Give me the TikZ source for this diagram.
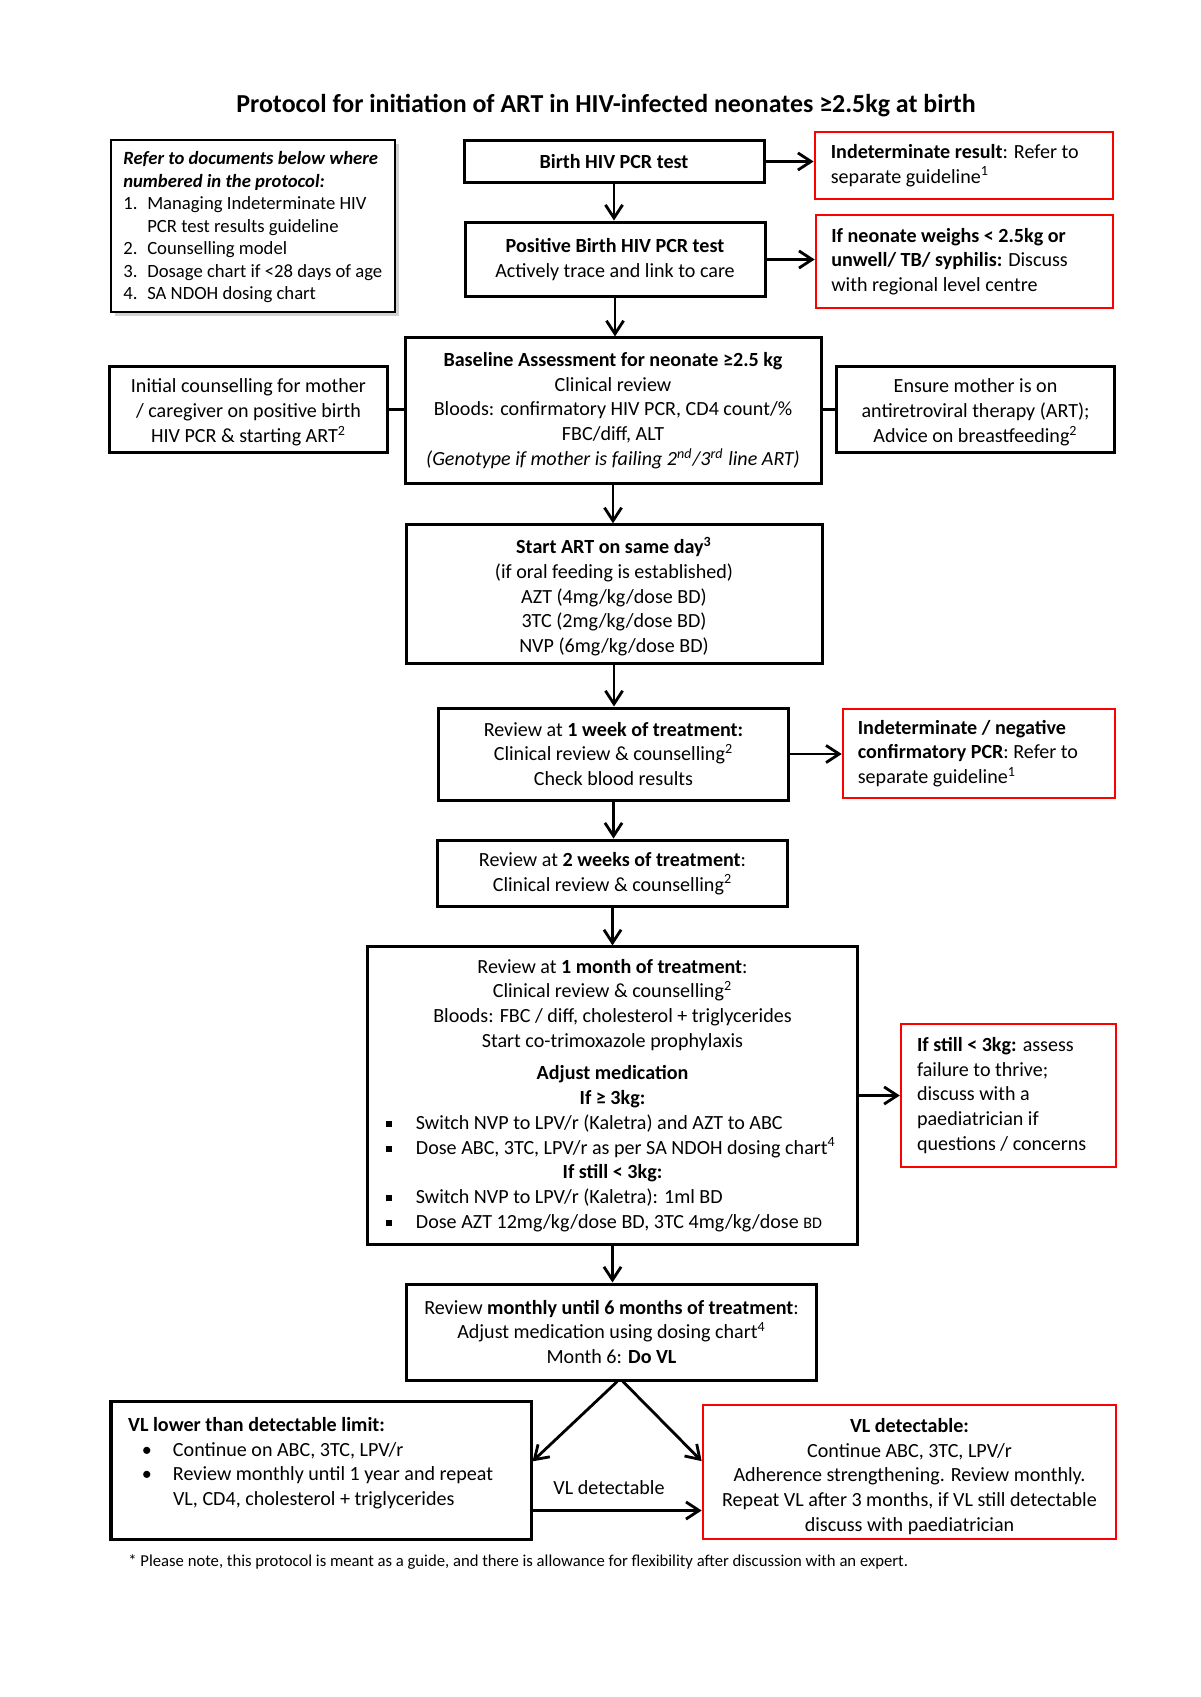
\documentclass[tikz,border=0pt]{standalone}
\usepackage{fontspec}
\setmainfont{Carlito}
\usetikzlibrary{arrows.meta,shadows}
\newcommand{\sqbul}{\raisebox{0.25ex}{\rule{0.3em}{0.3em}}}
\newcommand{\sqitem}[1]{\makebox[80mm][l]{\hspace*{0.35mm}\makebox[5.25mm][l]{\sqbul}#1}}
\newcommand{\rdot}{\makebox[5.45mm][l]{\textbullet}}
\newcommand{\refno}[1]{\makebox[4.2mm][l]{#1}}
\begin{document}
\begin{tikzpicture}[x=0.175mm, y=-0.175mm,
    box/.style={rectangle, draw, line width=1.5pt, align=center, inner sep=0pt, font=\fontsize{10}{12.35}\selectfont},
    redbox/.style={box, draw=red, line width=1.25pt, align=flush left},
    arrow/.style={->, >={Straight Barb[length=2.3mm,width=3mm]}, line width=1.4pt},
    link/.style={line width=1.4pt}
]
    \useasboundingbox (0,0) rectangle (1200,1697);

    % Title
    \node[font=\bfseries\fontsize{12.9}{15}\selectfont] (title) at (606,106) {Protocol for initiation of ART in HIV-infected neonates ≥2.5kg at birth};

    % Reference list
    \node[box, line width=0.6pt, align=flush left, fill=white, drop shadow={shadow xshift=0.7mm, shadow yshift=-0.7mm, fill=black!35},
          font=\fontsize{9.3}{11.2}\selectfont, text width=45.4mm, minimum width=49.7mm, minimum height=30.1mm] (refs) at (253,226)
        {\rule{0pt}{2.8mm}\textbf{\textit{Refer to documents below where}}\\
         \textbf{\textit{numbered in the protocol:}}\\
         \refno{1.}Managing Indeterminate HIV\\
         \hspace*{4.2mm}PCR test results guideline\\
         \refno{2.}Counselling model\\
         \refno{3.}Dosage chart if <28 days of age\\
         \refno{4.}SA NDOH dosing chart};

    % Top of the main column
    \node[box, minimum width=52.5mm, minimum height=7.2mm] (birth) at (614,161.5) {\textbf{Birth HIV PCR test}};
    \node[redbox, text width=46.6mm, minimum width=52.2mm, minimum height=11.7mm] (indet) at (964,165.5)
        {\textbf{Indeterminate result}: Refer to\\separate guideline\textsuperscript{1}};
    \node[box, minimum width=52.5mm, minimum height=13.1mm] (positive) at (615,259.5)
        {\textbf{Positive Birth HIV PCR test}\\Actively trace and link to care};
    \node[redbox, text width=46.6mm, minimum width=52mm, minimum height=16.3mm] (weighs) at (964.5,261.5)
        {\textbf{If neonate weighs < 2.5kg or}\\\textbf{unwell/ TB/ syphilis:} Discuss\\with regional level centre};

    % Baseline row
    \node[box, minimum width=72.8mm, minimum height=25.4mm] (baseline) at (613,410.5)
        {\textbf{Baseline Assessment for neonate ≥2.5 kg}\\Clinical review\\Bloods: confirmatory HIV PCR, CD4 count/\%\\FBC/diff, ALT\\
         \textit{(Genotype if mother is failing 2\textsuperscript{nd}/3\textsuperscript{rd} line ART)}};
    \node[box, minimum width=48.5mm, minimum height=15.2mm] (counsel) at (248.5,409.5)
        {\rule{0pt}{3.4mm}Initial counselling for mother\\/ caregiver on positive birth\\HIV PCR \& starting ART\textsuperscript{2}};
    \node[box, minimum width=48.8mm, minimum height=15.2mm] (mother) at (975.5,409.5)
        {\rule{0pt}{3.4mm}Ensure mother is on\\antiretroviral therapy (ART);\\Advice on breastfeeding\textsuperscript{2}};

    % Treatment steps
    \node[box, minimum width=72.8mm, minimum height=24.2mm] (startart) at (614,594)
        {\rule{0pt}{3.8mm}\textbf{Start ART on same day\textsuperscript{3}}\\(if oral feeding is established)\\AZT (4mg/kg/dose BD)\\3TC (2mg/kg/dose BD)\\NVP (6mg/kg/dose BD)};
    \node[box, minimum width=61.1mm, minimum height=16.1mm] (week1) at (613.5,754)
        {Review at \textbf{1 week of treatment:}\\Clinical review \& counselling\textsuperscript{2}\\Check blood results};
    \node[redbox, text width=42.4mm, minimum width=47.6mm, minimum height=15.6mm] (negpcr) at (979,753.5)
        {\textbf{Indeterminate / negative}\\\textbf{confirmatory PCR}: Refer to\\separate guideline\textsuperscript{1}};
    \node[box, minimum width=61.1mm, minimum height=11.7mm] (week2) at (612.5,873.5)
        {Review at \textbf{2 weeks of treatment}:\\Clinical review \& counselling\textsuperscript{2}};
    \node[box, align=flush center, text width=80mm, minimum width=85.6mm, minimum height=52mm] (month1) at (612.5,1095.5)
        {Review at \textbf{1 month of treatment}:\\Clinical review \& counselling\textsuperscript{2}\\
         Bloods: FBC / diff, cholesterol + triglycerides\\Start co-trimoxazole prophylaxis\\[1.3mm]
         \textbf{Adjust medication}\\\textbf{If ≥ 3kg:}\\
         \sqitem{Switch NVP to LPV/r (Kaletra) and AZT to ABC}\\
         \sqitem{Dose ABC, 3TC, LPV/r as per SA NDOH dosing chart\textsuperscript{4}}\\
         \textbf{If still < 3kg:}\\
         \sqitem{Switch NVP to LPV/r (Kaletra): 1ml BD}\\
         \sqitem{Dose AZT 12mg/kg/dose BD, 3TC 4mg/kg/dose {\footnotesize BD}}};
    \node[redbox, text width=32mm, minimum width=37.6mm, minimum height=25mm] (still3) at (1008.5,1095.5)
        {\textbf{If still < 3kg:} assess\\failure to thrive;\\discuss with a\\paediatrician if\\questions / concerns};
    \node[box, minimum width=71.9mm, minimum height=16.8mm] (monthly) at (611.5,1332)
        {Review \textbf{monthly until 6 months of treatment}:\\Adjust medication using dosing chart\textsuperscript{4}\\Month 6: \textbf{Do VL}};

    % Viral load outcome
    \node[box, align=flush left, text width=67.5mm, minimum width=73.5mm, minimum height=24mm] (vllow) at (321,1470.5)
        {\textbf{VL lower than detectable limit:}\\
         \hspace*{2.4mm}\rdot Continue on ABC, 3TC, LPV/r\\
         \hspace*{2.4mm}\rdot Review monthly until 1 year and repeat\\
         \hspace*{7.85mm}VL, CD4, cholesterol + triglycerides\rule[-3.2mm]{0pt}{1mm}};
    \node[box, draw=red, line width=1.25pt, minimum width=72.3mm, minimum height=23.5mm] (vldet) at (909.5,1472)
        {\rule{0pt}{4mm}\textbf{VL detectable:}\\Continue ABC, 3TC, LPV/r\\Adherence strengthening. Review monthly.\\
         Repeat VL after 3 months, if VL still detectable\\discuss with paediatrician};
    \node[font=\fontsize{10}{12}\selectfont] (vllabel) at (609,1488) {VL detectable};

    % Footnote
    \node[anchor=west, font=\fontsize{8.3}{10}\selectfont, inner sep=0pt] (note) at (128,1562)
        {* Please note, this protocol is meant as a guide, and there is allowance for flexibility after discussion with an expert.};

    % Arrows down the main column
    \draw[arrow] (birth) -- (birth.south |- positive.north);
    \draw[arrow] (positive) -- (positive.south |- baseline.north);
    \draw[arrow] (baseline) -- (baseline.south |- startart.north);
    \draw[arrow] (startart) -- (startart.south |- week1.north);
    \draw[arrow] (week1) -- (week1.south |- week2.north);
    \draw[arrow] (week2) -- (week2.south |- month1.north);
    \draw[arrow] (month1) -- (month1.south |- monthly.north);

    % Arrows to the side boxes
    \draw[arrow] (birth.east) -- (birth.east -| indet.west);
    \draw[arrow] (positive.east) -- (positive.east -| weighs.west);
    \draw[arrow] (week1.east) -- (week1.east -| negpcr.west);
    \draw[arrow] (month1.east) -- (month1.east -| still3.west);
    \draw[link] (counsel.east) -- (baseline.west |- counsel.east);
    \draw[link] (baseline.east |- mother.west) -- (mother.west);

    % Viral load arrows
    \draw[arrow] ([xshift=1mm]monthly.south) -- ([yshift=1.6mm]vllow.east);
    \draw[arrow] ([xshift=2mm]monthly.south) -- ([yshift=1.9mm]vldet.west);
    \draw[arrow] ([yshift=-7mm]vllow.east) -- ([yshift=-7mm]vllow.east -| vldet.west);
\end{tikzpicture}
\end{document}
